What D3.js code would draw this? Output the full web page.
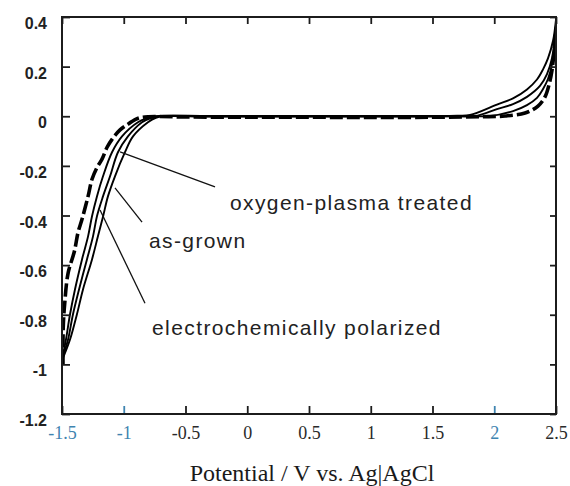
<!DOCTYPE html>
<html>
<head>
<meta charset="utf-8">
<script src="https://cdn.jsdelivr.net/npm/d3@7"></script>
<style>
  html, body { margin: 0; padding: 0; background: #fff; }
  svg { display: block; }
</style>
</head>
<body>
<svg id="chart" width="570" height="486"></svg>
<script>
// Cyclic voltammograms, current vs. potential (V vs. Ag|AgCl)
// Each trace is a list of [potential, current] pairs.

// thick dashed trace
const polarized = [
  [-1.492, -1.0], [-1.49, -0.85], [-1.478, -0.754], [-1.451, -0.633],
  [-1.40, -0.545], [-1.37, -0.468], [-1.338, -0.415], [-1.289, -0.323],
  [-1.257, -0.254], [-1.215, -0.205], [-1.176, -0.173], [-1.135, -0.125],
  [-1.095, -0.093], [-1.03, -0.055], [-0.966, -0.032], [-0.90, -0.012],
  [-0.868, -0.006], [-0.80, -0.002], [-0.747, -0.001],
  [-0.5, -0.003], [0, -0.004], [0.5, -0.004], [1.0, -0.005], [1.5, -0.004], [1.9, -0.002],
  [2.087, 0.001], [2.249, 0.013], [2.354, 0.041], [2.411, 0.078],
  [2.443, 0.126], [2.468, 0.187], [2.484, 0.26], [2.5, 0.356]
];

// thin solid traces
const scanA = [
  [-1.49, -0.956], [-1.468, -0.9], [-1.435, -0.798], [-1.395, -0.698],
  [-1.338, -0.577], [-1.289, -0.484], [-1.257, -0.403], [-1.217, -0.323],
  [-1.168, -0.242], [-1.095, -0.145], [-1.014, -0.081], [-0.885, -0.024],
  [-0.81, -0.008], [-0.75, 0],
  [-0.3, 0.001], [0.5, 0.001], [1.2, 0.0], [1.7, 0.002],
  [1.804, 0.005], [2.022, 0.047], [2.152, 0.072], [2.265, 0.108],
  [2.346, 0.148], [2.395, 0.189], [2.435, 0.233], [2.476, 0.304], [2.5, 0.39]
];

const scanB = [
  [-1.49, -0.964], [-1.451, -0.9], [-1.411, -0.798], [-1.362, -0.698],
  [-1.298, -0.577], [-1.249, -0.484], [-1.217, -0.403], [-1.168, -0.323],
  [-1.111, -0.242], [-1.047, -0.145], [-0.966, -0.081], [-0.852, -0.024],
  [-0.78, -0.007], [-0.72, 0],
  [-0.3, 0.0], [0.5, 0.0], [1.2, 0.001], [1.7, 0.001],
  [1.844, 0.001], [2.022, 0.029], [2.152, 0.049], [2.265, 0.078],
  [2.37, 0.122], [2.427, 0.17], [2.468, 0.235], [2.492, 0.328], [2.5, 0.37]
];

const scanC = [
  [-1.49, -0.972], [-1.435, -0.9], [-1.379, -0.798], [-1.33, -0.698],
  [-1.257, -0.577], [-1.209, -0.484], [-1.168, -0.405], [-1.128, -0.323],
  [-1.071, -0.242], [-0.99, -0.145], [-0.925, -0.081], [-0.804, -0.024],
  [-0.74, -0.006], [-0.68, 0],
  [-0.3, -0.001], [0.5, -0.001], [1.2, -0.001], [1.8, 0.0],
  [1.966, 0.001], [2.152, 0.021], [2.265, 0.045], [2.346, 0.074],
  [2.395, 0.11], [2.435, 0.15], [2.468, 0.21], [2.49, 0.288], [2.5, 0.37]
];

// axis ticks
const potentialTicks = [-1.5, -1, -0.5, 0, 0.5, 1, 1.5, 2, 2.5];
const potentialLabels = ["-1.5", "-1", "-0.5", "0", "0.5", "1", "1.5", "2", "2.5"];
const currentTicks = [0.4, 0.2, 0, -0.2, -0.4, -0.6, -0.8, -1, -1.2];
const currentLabels = ["0.4", "0.2", "0", "-0.2", "-0.4", "-0.6", "-0.8", "-1", "-1.2"];
const xTitle = "Potential / V vs. Ag|AgCl";

// annotations: label text, leader start/end and label anchor in data units
const annotationLabels = ["oxygen-plasma treated", "as-grown", "electrochemically polarized"];
const leaderFrom = [[-1.030, -0.144], [-1.071, -0.289], [-1.192, -0.378]];
const leaderTo = [[-0.261, -0.285], [-0.852, -0.427], [-0.828, -0.754]];
const labelAt = [[-0.140, -0.378], [-0.796, -0.532], [-0.771, -0.882]];

// ---------------------------------------------------------------
const svg = d3.select("#chart");
const plot = { left: 62, right: 556, top: 17, bottom: 414 };

const x = d3.scaleLinear().domain([-1.5, 2.5]).range([plot.left, plot.right]);
const y = d3.scaleLinear().domain([-1.2, 0.4]).range([plot.bottom, plot.top]);

svg.append("rect").attr("width", 570).attr("height", 486).attr("fill", "#fff");

const blueTicks = new Set([-1.5, -1, 2]);
const ink = "#1c1c1c";

// clip so curves stay inside the frame
svg.append("clipPath").attr("id", "plotClip")
  .append("rect")
  .attr("x", plot.left).attr("y", plot.top - 2)
  .attr("width", plot.right - plot.left).attr("height", plot.bottom - plot.top + 2);

const lineX = d3.line().x(d => x(d[0])).y(d => y(d[1])).curve(d3.curveCatmullRom.alpha(0.5));

const curves = svg.append("g").attr("clip-path", "url(#plotClip)");

[scanA, scanB, scanC].forEach(tr => {
  curves.append("path")
    .attr("d", lineX(tr))
    .attr("fill", "none")
    .attr("stroke", "#000")
    .attr("stroke-width", 1.9)
    .attr("stroke-linejoin", "round");
});

curves.append("path")
  .attr("d", lineX(polarized))
  .attr("fill", "none")
  .attr("stroke", "#000")
  .attr("stroke-width", 3.6)
  .attr("stroke-dasharray", "13,4")
  .attr("stroke-linejoin", "round");

// axes with inward ticks
const bottomAxis = d3.axisBottom(x).tickValues(potentialTicks)
  .tickFormat((d, i) => potentialLabels[i]).tickSize(-8).tickPadding(12);
const topAxis = d3.axisTop(x).tickValues(potentialTicks).tickFormat("").tickSize(-7);
const leftAxis = d3.axisLeft(y).tickValues(currentTicks)
  .tickFormat((d, i) => currentLabels[i]).tickSize(-8).tickPadding(15);
const rightAxis = d3.axisRight(y).tickValues(currentTicks).tickFormat("").tickSize(-6);

function styleAxis(g) {
  g.select(".domain").remove();
  g.selectAll(".tick line").attr("stroke", ink).attr("stroke-width", 1.8);
}

const gb = svg.append("g").attr("transform", `translate(0,${plot.bottom})`).call(bottomAxis).call(styleAxis);
gb.selectAll(".tick text")
  .attr("font-family", "'Liberation Serif', 'Times New Roman', serif")
  .attr("font-size", 18)
  .attr("fill", d => blueTicks.has(d) ? "#3f84b0" : "#2a2a2a");
gb.selectAll(".tick line")
  .attr("stroke", d => (d === -1 || d === 2) ? "#3f84b0" : ink);

svg.append("g").attr("transform", `translate(0,${plot.top})`).call(topAxis).call(styleAxis);

const gl = svg.append("g").attr("transform", `translate(${plot.left},0)`).call(leftAxis).call(styleAxis);
gl.selectAll(".tick text")
  .attr("font-family", "'Liberation Sans', Arial, sans-serif")
  .attr("font-size", 16)
  .attr("font-weight", "bold")
  .attr("fill", "#222")
  .attr("dy", "0.72em");

svg.append("g").attr("transform", `translate(${plot.right},0)`).call(rightAxis).call(styleAxis);

// frame
svg.append("rect")
  .attr("x", plot.left).attr("y", plot.top)
  .attr("width", plot.right - plot.left).attr("height", plot.bottom - plot.top)
  .attr("fill", "none").attr("stroke", ink).attr("stroke-width", 2);

// axis title
svg.append("text")
  .attr("x", (plot.left + plot.right) / 2 + 3)
  .attr("y", 481)
  .attr("text-anchor", "middle")
  .attr("font-family", "'Liberation Serif', 'Times New Roman', serif")
  .attr("font-size", 24)
  .attr("fill", "#1a1a1a")
  .text(xTitle);

// annotations with leader lines
const notes = svg.append("g");
annotationLabels.forEach((label, i) => {
  notes.append("line")
    .attr("x1", x(leaderFrom[i][0])).attr("y1", y(leaderFrom[i][1]))
    .attr("x2", x(leaderTo[i][0])).attr("y2", y(leaderTo[i][1]))
    .attr("stroke", "#111").attr("stroke-width", 1.3);
  notes.append("text")
    .attr("x", x(labelAt[i][0])).attr("y", y(labelAt[i][1]))
    .attr("font-family", "'Liberation Sans', Arial, sans-serif")
    .attr("font-size", 21)
    .attr("letter-spacing", 1.4)
    .attr("fill", "#222")
    .text(label);
});
</script>
</body>
</html>
